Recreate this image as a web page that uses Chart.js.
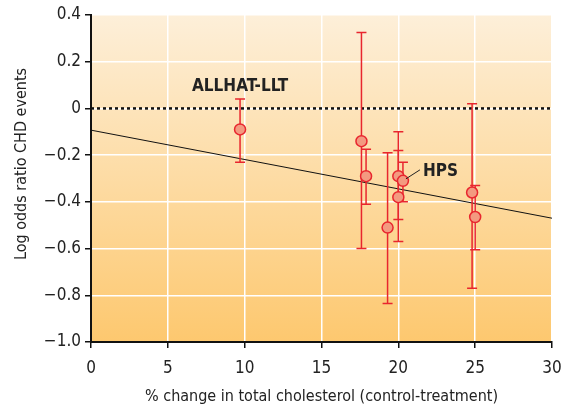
<!DOCTYPE html>
<html>
<head>
<meta charset="utf-8">
<script src="https://cdn.jsdelivr.net/npm/chart.js@4/dist/chart.umd.min.js"></script>
<style>
  html, body { margin: 0; padding: 0; background: #fff; }
  #wrap { width: 561px; height: 410px; }
</style>
</head>
<body>
<div id="wrap"><canvas id="chart"></canvas></div>
<script>
// trial data
const cholChange = [9.7, 17.6, 17.9, 19.3, 20.0, 20.0, 20.3, 24.8, 25.0];
const logOdds = [-0.09, -0.14, -0.29, -0.51, -0.29, -0.38, -0.31, -0.36, -0.465];
const ciLow = [-0.23, -0.60, -0.41, -0.835, -0.57, -0.475, -0.40, -0.77, -0.605];
const ciHigh = [0.04, 0.325, -0.175, -0.19, -0.10, -0.18, -0.23, 0.02, -0.33];

// regression line end points
const fitX = [0, 30];
const fitY = [-0.093, -0.47];

const xTicks = [0, 5, 10, 15, 20, 25, 30];
const yTicks = [0.4, 0.2, 0, -0.2, -0.4, -0.6, -0.8, -1.0];

// study labels: text, anchor x, anchor y (data units)
const studyLabels = [
  { text: "ALLHAT-LLT", x: 9.7, y: 0.095 },
  { text: "HPS", x: 21.6, y: -0.27 },
];

const FONT = "'Liberation Sans Narrow', 'DejaVu Sans Condensed', 'Roboto Condensed', sans-serif";
const RED = "#e8262e";

const bgPlugin = {
  id: "bg",
  beforeDraw(chart) {
    const { ctx, chartArea: a } = chart;
    const g = ctx.createLinearGradient(0, a.top, 0, a.bottom);
    g.addColorStop(0, "#fdefd9");
    g.addColorStop(1, "#fdc86f");
    ctx.save();
    ctx.fillStyle = g;
    ctx.fillRect(a.left, a.top, a.right - a.left, a.bottom - a.top);
    ctx.restore();
  },
};

const errorBars = {
  id: "errorBars",
  afterDatasetsDraw(chart) {
    const { ctx, scales } = chart;
    const xs = scales.x, ys = scales.y;
    ctx.save();
    ctx.strokeStyle = RED;
    ctx.lineWidth = 1.5;
    cholChange.forEach((x, i) => {
      const px = xs.getPixelForValue(x);
      const top = ys.getPixelForValue(ciHigh[i]);
      const bot = ys.getPixelForValue(ciLow[i]);
      ctx.beginPath();
      ctx.moveTo(px, top);
      ctx.lineTo(px, bot);
      ctx.moveTo(px - 5, top);
      ctx.lineTo(px + 5, top);
      ctx.moveTo(px - 5, bot);
      ctx.lineTo(px + 5, bot);
      ctx.stroke();
    });
    ctx.restore();
  },
  afterDraw(chart) {
    const { ctx, scales } = chart;
    const xs = scales.x, ys = scales.y;
    // draw points on top of bars
    ctx.save();
    cholChange.forEach((x, i) => {
      ctx.beginPath();
      ctx.arc(xs.getPixelForValue(x), ys.getPixelForValue(logOdds[i]), 5.5, 0, Math.PI * 2);
      ctx.fillStyle = "#f39a80";
      ctx.fill();
      ctx.lineWidth = 1.5;
      ctx.strokeStyle = RED;
      ctx.stroke();
    });
    // labels
    ctx.fillStyle = "#222";
    ctx.font = "bold 17px " + FONT;
    ctx.textBaseline = "middle";
    studyLabels.forEach((l, i) => {
      ctx.textAlign = i === 0 ? "center" : "left";
      ctx.fillText(l.text, xs.getPixelForValue(l.x), ys.getPixelForValue(l.y));
    });
    // HPS leader line
    const hx = xs.getPixelForValue(20.3), hy = ys.getPixelForValue(-0.31);
    ctx.strokeStyle = "#222";
    ctx.lineWidth = 1;
    ctx.beginPath();
    ctx.moveTo(hx + 3, hy - 2);
    ctx.lineTo(hx + 17, hy - 11);
    ctx.stroke();
    // y axis title, sits a bit above the plot centre
    ctx.translate(22, 164);
    ctx.rotate(-Math.PI / 2);
    ctx.textAlign = "center";
    ctx.font = "16px " + FONT;
    ctx.fillText("Log odds ratio CHD events", 0, 0);
    ctx.restore();
  },
};

new Chart(document.getElementById("chart"), {
  type: "scatter",
  data: {
    datasets: [
      {
        type: "line",
        data: [{ x: 0, y: 0 }, { x: 30, y: 0 }],
        borderColor: "#111",
        borderWidth: 2.5,
        borderDash: [3, 3],
        pointRadius: 0,
      },
      {
        type: "line",
        data: fitX.map((x, i) => ({ x, y: fitY[i] })),
        borderColor: "#111",
        borderWidth: 1,
        pointRadius: 0,
      },
      {
        data: cholChange.map((x, i) => ({ x, y: logOdds[i] })),
        pointRadius: 0,
        showLine: false,
      },
    ],
  },
  options: {
    responsive: true,
    maintainAspectRatio: false,
    animation: false,
    layout: { padding: { top: 15, right: 9, left: 0, bottom: 0 } },
    plugins: { legend: { display: false }, tooltip: { enabled: false } },
    scales: {
      x: {
        type: "linear",
        min: 0,
        max: 30,
        afterBuildTicks: (s) => { s.ticks = xTicks.map((v) => ({ value: v })); },
        afterFit: (s) => { s.height = 68; s.paddingRight = 0; s.paddingLeft = 0; },
        grid: { color: "#ffffff", lineWidth: 1.5, tickColor: "#111", tickLength: 6, z: 0 },
        border: { color: "#111", width: 2 },
        ticks: { color: "#222", font: { family: FONT, size: 17 }, padding: 10, maxRotation: 0 },
        title: {
          display: true,
          text: "% change in total cholesterol (control-treatment)",
          color: "#222",
          font: { family: FONT, size: 16 },
          padding: { top: 0 },
        },
      },
      y: {
        min: -1.0,
        max: 0.4,
        afterBuildTicks: (s) => { s.ticks = yTicks.map((v) => ({ value: v })); },
        afterFit: (s) => { s.width = 91; s.paddingTop = 0; s.paddingBottom = 0; },
        grid: { color: "#ffffff", lineWidth: 1.5, tickColor: "#111", tickLength: 6 },
        border: { color: "#111", width: 2 },
        ticks: {
          color: "#222",
          font: { family: FONT, size: 17 },
          padding: 4,
          callback: (v) => {
            if (v === 0) return "0";
            const s = Math.abs(v).toFixed(1);
            return v < 0 ? "\u2212" + s : s;
          },
        },
        title: { display: false },
      },
    },
  },
  plugins: [bgPlugin, errorBars],
});
</script>
</body>
</html>
